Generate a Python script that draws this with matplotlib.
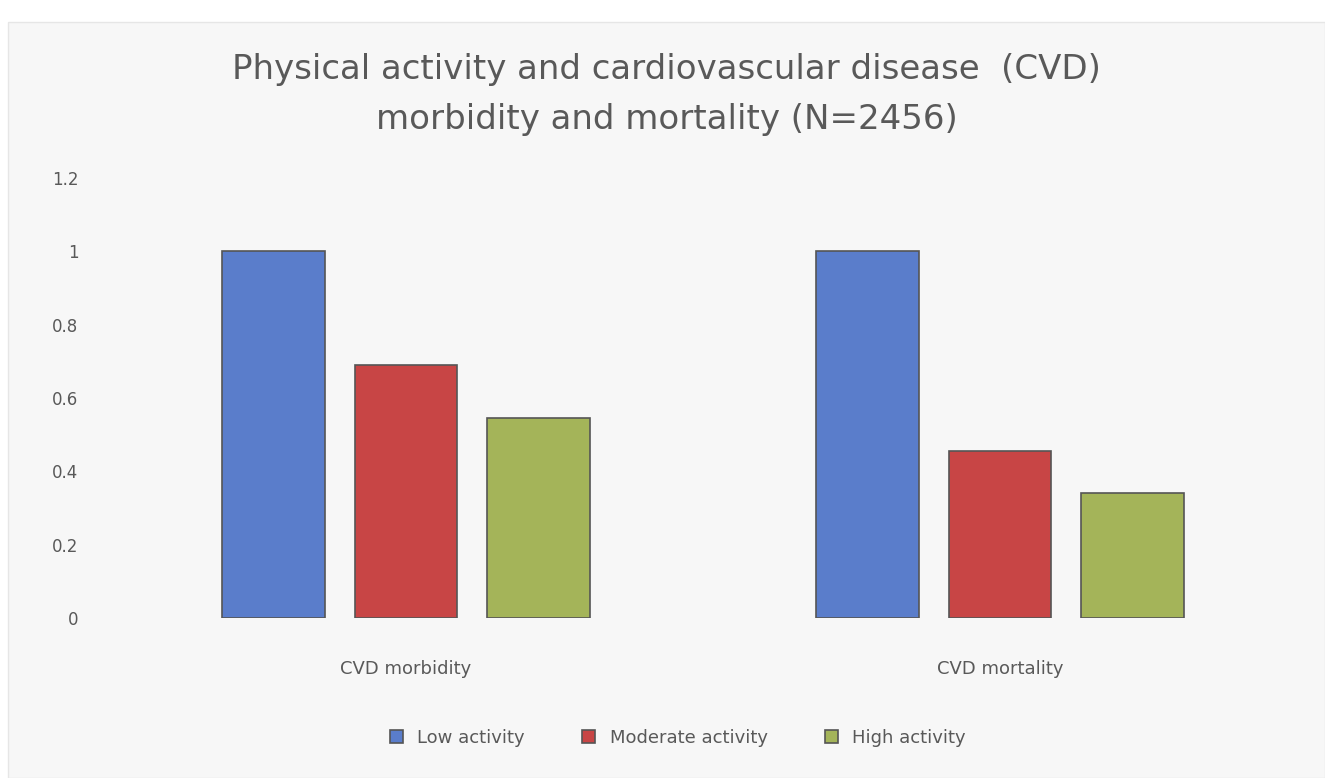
import matplotlib.pyplot as plt
import matplotlib.patches as mpatches
import numpy as np

# Data
categories = ['CVD morbidity', 'CVD mortality']
series = ['Low activity', 'Moderate activity', 'High activity']
low_activity = [1.0, 1.0]
moderate_activity = [0.69, 0.455]
high_activity = [0.545, 0.34]
yticks = [0, 0.2, 0.4, 0.6, 0.8, 1, 1.2]

# Excel-like colours
colors = ['#5a7dcb', '#c84545', '#a4b459']
text_color = '#595959'

fig = plt.figure(figsize=(13.25, 7.78), dpi=100)
fig.patch.set_facecolor('white')

# light grey chart area inside a thin white border
bg = mpatches.Rectangle((8 / 1325, 0), 1 - 8 / 1325, 1 - 22 / 778,
                        transform=fig.transFigure, facecolor='#f7f7f7',
                        edgecolor='#e6e6e6', lw=1, zorder=-10)
fig.add_artist(bg)

ax = fig.add_axes([109 / 1325, 1 - 618 / 778, (1297 - 109) / 1325, 440 / 778])
ax.set_facecolor('none')
ax.set_zorder(1)

x = np.arange(len(categories))
width = 0.173
step = 0.223
for i, (vals, c, name) in enumerate(zip([low_activity, moderate_activity, high_activity], colors, series)):
    ax.bar(x + (i - 1) * step, vals, width, color=c, edgecolor='#555555', linewidth=1.2,
           label=name, zorder=2)

ax.set_xlim(-0.5, 1.5)
ax.set_ylim(0, 1.2)
ax.set_yticks(yticks)
ax.set_yticklabels(['0', '0.2', '0.4', '0.6', '0.8', '1', '1.2'])
ax.set_xticks(x)
ax.set_xticklabels(categories)
ax.tick_params(axis='y', length=0, pad=22, labelsize=12, colors=text_color)
ax.tick_params(axis='x', length=0, pad=30, labelsize=13, colors=text_color)
for s in ax.spines.values():
    s.set_visible(False)

fig.text(0.503, 1 - 70 / 778, 'Physical activity and cardiovascular disease  (CVD)',
         ha='center', va='center', fontsize=24.5, color=text_color)
fig.text(0.503, 1 - 120 / 778, 'morbidity and mortality (N=2456)',
         ha='center', va='center', fontsize=24.5, color=text_color)

ax.legend(loc='center', bbox_to_anchor=(678 / 1325, 1 - 738 / 778), bbox_transform=fig.transFigure,
          ncol=3, frameon=False, fontsize=13, handlelength=0.7, handleheight=0.7,
          columnspacing=3.2, labelcolor=text_color)

fig.savefig('out.png', dpi=100, facecolor=fig.get_facecolor())
